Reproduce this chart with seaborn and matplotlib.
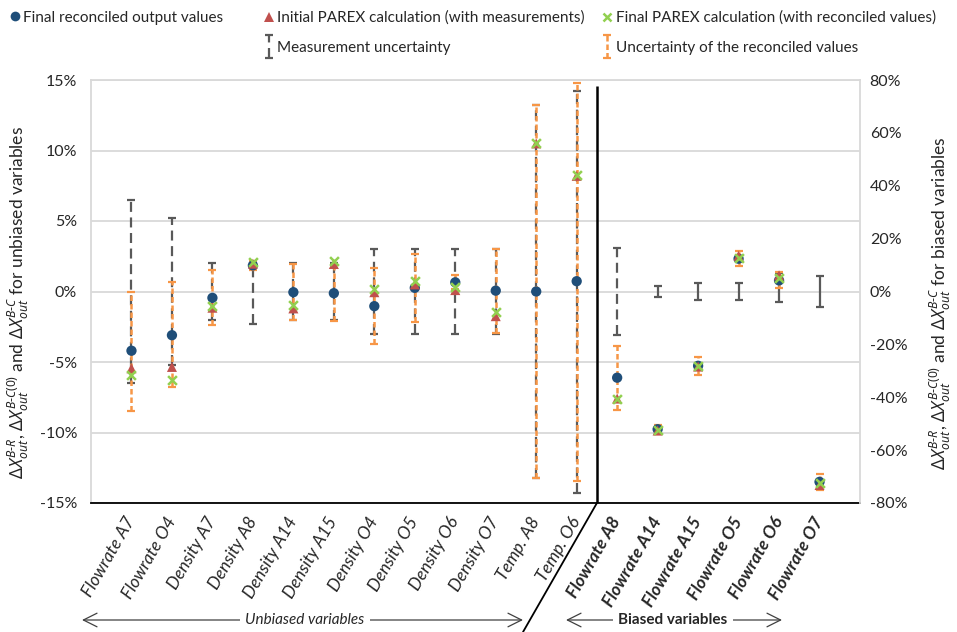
import numpy as np
import pandas as pd
import matplotlib
matplotlib.use("Agg")
import matplotlib.pyplot as plt
import seaborn as sns
from matplotlib.lines import Line2D
from matplotlib.container import ErrorbarContainer
from matplotlib.legend_handler import HandlerErrorbar
from matplotlib.ticker import FuncFormatter

# ---------------- data ----------------
categories = ["Flowrate A7", "Flowrate O4", "Density A7", "Density A8", "Density A14",
              "Density A15", "Density O4", "Density O5", "Density O6", "Density O7",
              "Temp. A8", "Temp. O6",
              "Flowrate A8", "Flowrate A14", "Flowrate A15", "Flowrate O5",
              "Flowrate O6", "Flowrate O7"]
n_unbiased = 12

# unbiased variables (left axis, %)
final_unb = [-4.2, -3.1, -0.45, 1.85, -0.05, -0.12, -1.04, 0.26, 0.65, 0.06, 0.0, 0.73]
initial_unb = [-5.45, -5.35, -1.15, 1.97, -1.2, 1.95, -0.05, 0.5, 0.1, -1.75, 10.5, 8.2]
recalc_unb = [-5.95, -6.25, -1.05, 2.1, -0.95, 2.15, 0.2, 0.73, 0.3, -1.47, 10.55, 8.25]
meas_lo_unb = [-6.5, -5.2, -2.05, -2.3, -2.05, -2.05, -3.0, -3.0, -3.0, -3.0, -13.2, -14.3]
meas_hi_unb = [6.5, 5.2, 2.0, 2.0, 2.0, 2.0, 3.0, 3.0, 3.0, 3.0, 13.2, 14.25]
rec_lo_unb = [-8.5, -6.8, -2.4, 1.55, -2.05, -2.1, -3.72, -2.16, 0.15, -2.96, -13.25, -13.45]
rec_hi_unb = [0.0, 0.66, 1.5, 2.15, 1.95, 1.9, 1.7, 2.68, 1.19, 2.98, 13.2, 14.8]

# biased variables (right axis, %)
final_b = [-32.6, -52.1, -28.1, 12.4, 4.2, -72.0]
initial_b = [-40.5, -52.6, -28.4, 13.5, 6.1, -73.2]
recalc_b = [-40.7, -52.2, -28.1, 12.6, 5.0, -72.6]
meas_lo_b = [-16.4, -2.1, -3.2, -3.2, -4.1, -6.0]
meas_hi_b = [16.4, 2.1, 3.2, 3.2, 6.9, 6.0]
rec_lo_b = [-44.9, -53.8, -31.5, 9.6, 1.4, -75.0]
rec_hi_b = [-20.5, -50.4, -24.9, 15.3, 7.3, -69.0]

left_ticks = [-15, -10, -5, 0, 5, 10, 15]
right_ticks = [-80, -60, -40, -20, 0, 20, 40, 60, 80]

# ---------------- style ----------------
sns.set_theme(style="white")
plt.rcParams['font.family'] = ['Lato', 'DejaVu Sans']
plt.rcParams['mathtext.fontset'] = 'custom'
plt.rcParams['mathtext.rm'] = 'Noto Sans'
plt.rcParams['mathtext.it'] = 'Noto Sans:italic'
plt.rcParams['mathtext.bf'] = 'Noto Sans:bold'

C_BLUE = '#1F4E79'
C_RED = '#C0504D'
C_GREEN = '#92D050'
C_ORANGE = '#F79646'
C_BLACK = '#595959'
C_TEXT = '#262626'
C_GRID = '#D9D9D9'

fig = plt.figure(figsize=(9.57, 6.32), dpi=100)
ax = fig.add_axes([91 / 957, 129 / 632, (860 - 91) / 957, (503 - 80) / 632])
ax2 = ax.twinx()

x_unb = np.arange(1, n_unbiased + 1)
x_b = np.arange(n_unbiased + 1, len(categories) + 1)

df_unb = pd.DataFrame({"x": x_unb, "final": final_unb, "initial": initial_unb, "recalc": recalc_unb})
df_b = pd.DataFrame({"x": x_b, "final": final_b, "initial": initial_b, "recalc": recalc_b})


def errbars(axis, x, lo, hi, center, color, lw, ls, capsize, z):
    lo = np.asarray(lo, float)
    hi = np.asarray(hi, float)
    center = np.asarray(center, float)
    eb = axis.errorbar(x, center, yerr=[center - lo, hi - center], fmt='none',
                       ecolor=color, elinewidth=lw, capsize=capsize, capthick=1.6,
                       zorder=z)
    eb[2][0].set_linestyle(ls)
    return eb


DASH_BLACK = (0, (4.5, 2.5))
DASH_ORANGE = (0, (2.2, 1.2))

# measurement uncertainty
meas_c_unb = (np.array(meas_lo_unb) + np.array(meas_hi_unb)) / 2
eb_meas = errbars(ax, x_unb, meas_lo_unb, meas_hi_unb, meas_c_unb, C_BLACK, 1.6, DASH_BLACK, 2.8, 2)
meas_c_b = (np.array(meas_lo_b) + np.array(meas_hi_b)) / 2
errbars(ax2, x_b[:1], meas_lo_b[:1], meas_hi_b[:1], meas_c_b[:1], C_BLACK, 1.6, DASH_BLACK, 2.8, 2)
errbars(ax2, x_b[1:], meas_lo_b[1:], meas_hi_b[1:], meas_c_b[1:], C_BLACK, 1.6, 'solid', 2.8, 2)

# reconciled uncertainty
eb_rec = errbars(ax, x_unb, rec_lo_unb, rec_hi_unb, final_unb, C_ORANGE, 1.8, DASH_ORANGE, 2.6, 3)
errbars(ax2, x_b, rec_lo_b, rec_hi_b, final_b, C_ORANGE, 1.8, DASH_ORANGE, 2.6, 3)

# points
for axis, d in ((ax, df_unb), (ax2, df_b)):
    sns.scatterplot(data=d, x="x", y="final", ax=axis, marker='o', color=C_BLUE, s=55,
                    edgecolor='none', zorder=5, legend=False)
    sns.scatterplot(data=d, x="x", y="initial", ax=axis, marker='^', color=C_RED, s=52,
                    edgecolor='none', zorder=6, legend=False)
    sns.scatterplot(data=d, x="x", y="recalc", ax=axis, marker='x', color=C_GREEN, s=40,
                    linewidth=1.8, zorder=7, legend=False)

# axes limits / ticks
ax.set_xlim(0, len(categories) + 1)
ax.set_ylim(-15, 15)
ax2.set_ylim(-80, 80)
ax.set_xticks(np.arange(0, len(categories) + 2))
ax.set_xticklabels([''] + categories + [''])
ax.set_yticks(left_ticks)
ax2.set_yticks(right_ticks)
pct = FuncFormatter(lambda v, p: f"{v:.0f}%")
ax.yaxis.set_major_formatter(pct)
ax2.yaxis.set_major_formatter(pct)
ax.set_xlabel('')
ax.set_ylabel('')
ax2.set_ylabel('')

ax.yaxis.grid(True, color=C_GRID, lw=1.3)
ax.xaxis.grid(False)
ax.set_axisbelow(True)

for s in ('left', 'top', 'right'):
    ax.spines[s].set_color(C_GRID)
    ax.spines[s].set_linewidth(1.3)
ax.spines['right'].set_visible(False)
ax.spines['bottom'].set_color('#000000')
ax.spines['bottom'].set_linewidth(1.3)
for s in ('left', 'top', 'bottom'):
    ax2.spines[s].set_visible(False)
ax2.spines['right'].set_color(C_GRID)
ax2.spines['right'].set_linewidth(1.3)

ax.tick_params(axis='x', direction='inout', length=20, width=1.0, color='#404040', pad=1)
ax.tick_params(axis='y', length=0, labelsize=11.5, labelcolor=C_TEXT, pad=10)
ax2.tick_params(axis='y', length=0, labelsize=11.5, labelcolor=C_TEXT, pad=7)

for i, lab in enumerate(ax.get_xticklabels()):
    lab.set_rotation(60)
    lab.set_rotation_mode('anchor')
    lab.set_ha('right')
    lab.set_va('center')
    lab.set_fontsize(12.5)
    lab.set_color(C_TEXT)
    lab.set_style('italic')
    if i > n_unbiased:
        lab.set_fontweight('bold')

# axis titles
H = '\u2010'


def dx(sup):
    return r'$\mathit{\Delta X}_{\mathit{out}}^{\mathit{' + sup + r'}}$'


ylab_l = dx('B' + H + 'R') + ', ' + dx('B' + H + 'C(0)') + ' and ' + dx('B' + H + 'C') + ' for unbiased variables'
ylab_r = dx('B' + H + 'R') + ', ' + dx('B' + H + 'C(0)') + ' and ' + dx('B' + H + 'C') + ' for biased variables'
fig.text(18 / 957, 1 - 303 / 632, ylab_l, rotation=90, ha='center', va='center', fontsize=12.5, color=C_TEXT)
fig.text(940 / 957, 1 - 303 / 632, ylab_r, rotation=90, ha='center', va='center', fontsize=12.5, color=C_TEXT)

# separator between unbiased and biased
ax.vlines(n_unbiased + 0.5, -15, 14.6, color='black', lw=1.8, zorder=8)
ax.annotate('', xy=(n_unbiased + 0.5, -15), xycoords='data', xytext=(523, 0), textcoords='figure pixels',
            arrowprops=dict(arrowstyle='-', color='black', lw=1.3, shrinkA=0, shrinkB=0),
            annotation_clip=False)

# group arrows
arrow_kw = dict(arrowstyle='<->,head_length=0.7,head_width=0.35', color='#404040', lw=0.9,
                shrinkA=0, shrinkB=0, mutation_scale=14)
ax.annotate('', xy=(82, 12), xycoords='figure pixels', xytext=(523, 12), textcoords='figure pixels',
            arrowprops=arrow_kw, annotation_clip=False)
fig.text(305 / 957, 12 / 632, 'Unbiased variables', ha='center', va='center', fontsize=11,
         style='italic', color=C_TEXT, bbox=dict(facecolor='white', edgecolor='none', pad=4))
ax.annotate('', xy=(566, 12), xycoords='figure pixels', xytext=(782, 12), textcoords='figure pixels',
            arrowprops=arrow_kw, annotation_clip=False)
fig.text(673 / 957, 12 / 632, 'Biased variables', ha='center', va='center', fontsize=11,
         fontweight='bold', color=C_TEXT, bbox=dict(facecolor='white', edgecolor='none', pad=4))

# legend
h_blue = Line2D([], [], ls='none', marker='o', color=C_BLUE, markersize=7, markeredgewidth=0)
h_red = Line2D([], [], ls='none', marker='^', color=C_RED, markersize=7, markeredgewidth=0)
h_green = Line2D([], [], ls='none', marker='x', color=C_GREEN, markersize=6, markeredgewidth=1.8)
h_blank = Line2D([], [], ls='none', alpha=0)
leg_kw = dict(loc='upper left', frameon=False, fontsize=11, handlelength=0.5, handletextpad=0.3,
              labelspacing=1.05, borderpad=0.2, labelcolor=C_TEXT,
              handler_map={ErrorbarContainer: HandlerErrorbar(xerr_size=0.0, yerr_size=0.75)})
fig.legend([h_blue, h_blank], ['Final reconciled output values', ''], ncol=1,
           bbox_to_anchor=(0 / 957, 1), **leg_kw)
fig.legend([h_red, eb_meas, h_green, eb_rec],
           ['Initial PAREX calculation (with measurements)', 'Measurement uncertainty',
            'Final PAREX calculation (with reconciled values)', 'Uncertainty of the reconciled values'],
           ncol=2, bbox_to_anchor=(254 / 957, 1), columnspacing=1.25, **leg_kw)

fig.savefig('out.png', dpi=100)
